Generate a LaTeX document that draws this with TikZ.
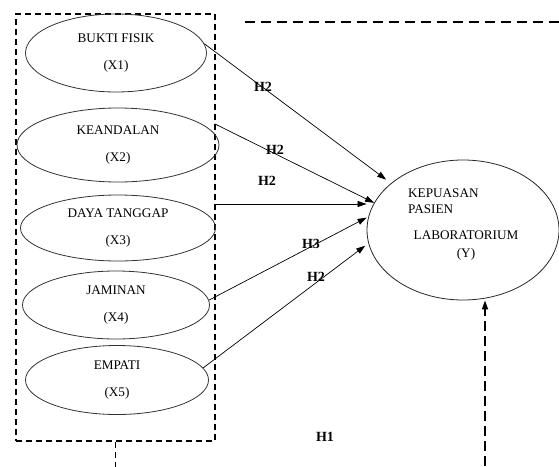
\documentclass[tikz,border=0pt]{standalone}
\usepackage{fontspec}
\setmainfont{Liberation Serif}
\usetikzlibrary{arrows.meta,shapes.geometric}

\begin{document}
\begin{tikzpicture}[
    x=1pt, y=-1pt, % pixel-like units, y going down
    varnode/.style = {ellipse, draw=black!80, line width=0.8pt, inner sep=0pt, align=center,
                      font=\fontsize{13.2}{27}\selectfont},
    depnode/.style = {ellipse, draw=black!85, line width=0.8pt, inner sep=0pt},
    lab/.style     = {inner sep=0pt, font=\fontsize{13.2}{16}\selectfont},
    hyp/.style     = {inner sep=0pt, font=\fontsize{14}{15}\selectfont\bfseries},
    % Style for hypothesis arrows
    edgeh/.style   = {-{Triangle[length=9pt,width=6pt]}, line width=0.7pt, draw=black},
    grpbox/.style  = {draw, line width=1.3pt, dash pattern=on 6pt off 4pt, inner sep=0pt}
  ]
  \useasboundingbox (0,0) rectangle (559,466);

  % ===== Left: independent variables =====
  \node[grpbox, minimum width=199pt, minimum height=427pt] (grp) at (115.5,227.5) {};
  \foreach \i/\txt/\cx/\cy/\w/\h in {1/BUKTI FISIK/116/53/181/78, 2/KEANDALAN/118/145/202/74,
      3/DAYA TANGGAP/118/228/195/66, 4/JAMINAN/116/305/187/68, 5/EMPATI/117/380/183/69}{
    \node[varnode, minimum width=\w pt, minimum height=\h pt] (x\i) at (\cx,\cy) {\txt\\(X\i)};
  }
  \draw[line width=1.3pt, dash pattern=on 6pt off 4pt] (grp.south) -- ++(0,25);

  % ===== Right: dependent variable =====
  \node[depnode, minimum width=192pt, minimum height=140pt] (y) at (463,230) {};
  \node[lab, anchor=west, align=left] (ytop) at (408,201) {KEPUASAN\\PASIEN};
  \node[lab, align=center, font=\fontsize{13.2}{18}\selectfont] (ybot) at (466,246) {LABORATORIUM\\(Y)};

  % Top dashed line
  \draw[line width=2.4pt, dash pattern=on 10pt off 6pt] (245,22) -- (559,22);

  % ===== Hypothesis arrows =====
  \coordinate (b2) at (215,124);
  \coordinate (b3) at (215,204);
  \draw[edgeh, shorten >=6pt] (x1.6) -- (y.147);
  \draw[edgeh] (b2) -- (y.163);
  \draw[edgeh] (b3) -- (b3 -| y.west);
  \draw[edgeh, shorten >=2pt] (x4.3) -- (y.172);
  \draw[edgeh, shorten >=4pt] (x5.8) -- (y.188);

  \coordinate (h1base) at (485,466);
  \draw[edgeh, line width=1.6pt, dash pattern=on 10pt off 5pt] (h1base) -- (h1base |- y.south);

  \foreach \t/\px/\py [count=\k] in {H2/263/87, H2/275/150, H2/267/181, H3/311/244, H2/316/277, H1/325/437}{
    \node[hyp] (hl\k) at (\px,\py) {\t};
  }
\end{tikzpicture}
\end{document}
